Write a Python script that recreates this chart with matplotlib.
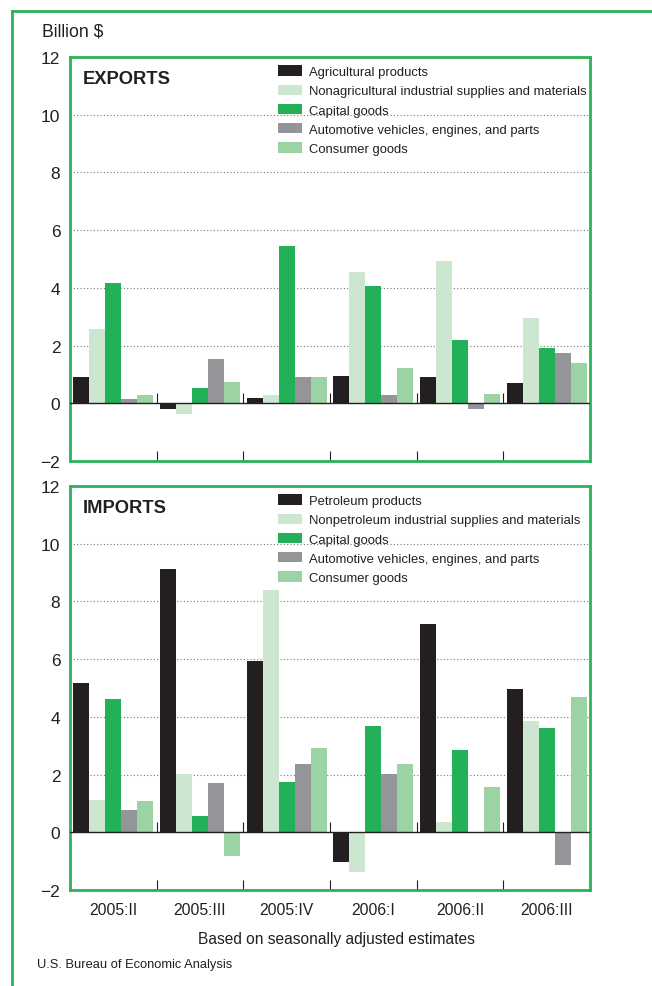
import matplotlib.pyplot as plt
import numpy as np
from matplotlib.lines import Line2D

plt.rcParams['font.family'] = ['Liberation Sans', 'DejaVu Sans']

# Données (milliards de $)
quarters = ['2005:II', '2005:III', '2005:IV', '2006:I', '2006:II', '2006:III']

export_labels = ['Agricultural products',
                 'Nonagricultural industrial supplies and materials',
                 'Capital goods',
                 'Automotive vehicles, engines, and parts',
                 'Consumer goods']
exp_agri = [0.90, -0.19, 0.18, 0.94, 0.90, 0.70]
exp_nonagri = [2.56, -0.37, 0.29, 4.56, 4.93, 2.97]
exp_capital = [4.17, 0.53, 5.45, 4.07, 2.18, 1.90]
exp_auto = [0.15, 1.55, 0.90, 0.29, -0.19, 1.73]
exp_consumer = [0.29, 0.73, 0.90, 1.21, 0.32, 1.38]

import_labels = ['Petroleum products',
                 'Nonpetroleum industrial supplies and materials',
                 'Capital goods',
                 'Automotive vehicles, engines, and parts',
                 'Consumer goods']
imp_petrol = [5.17, 9.12, 5.94, -1.03, 7.23, 4.96]
imp_nonpetrol = [1.11, 2.02, 8.39, -1.38, 0.34, 3.84]
imp_capital = [4.61, 0.58, 1.74, 3.70, 2.86, 3.63]
imp_auto = [0.76, 1.70, 2.37, 2.02, -0.02, -1.13]
imp_consumer = [1.07, -0.82, 2.93, 2.37, 1.56, 4.68]

# Couleurs
colors = ['#231f20', '#cde6cf', '#22b159', '#939598', '#9bd3a5']
frame_green = '#2cb35a'

fig = plt.figure(figsize=(6.52, 9.87), dpi=100)

# Cadre extérieur (haut et gauche)
fig.add_artist(Line2D([12/652, 1.0], [1-12/987, 1-12/987], color=frame_green, lw=2))
fig.add_artist(Line2D([12/652, 12/652], [0, 1-12/987], color=frame_green, lw=2))

ax1 = fig.add_axes([70/652, 1-462/987, 520/652, 404/987])
ax2 = fig.add_axes([70/652, 1-891/987, 520/652, 404/987])

x = np.arange(len(quarters))
w = 0.185


def draw_panel(ax, series, labels, title, show_xlabels):
    for i, vals in enumerate(series):
        ax.bar(x + (i - 2) * w, vals, width=w, color=colors[i], label=labels[i], zorder=2)
    ax.set_xlim(-0.5, len(quarters) - 0.5)
    ax.set_ylim(-2, 12)
    # grille pointillée
    for yv in [2, 4, 6, 8, 10]:
        ax.axhline(yv, color='#777777', lw=0.8, ls=(0, (1, 2)), zorder=1)
    ax.axhline(0, color='#231f20', lw=1.0, zorder=3)
    # petites graduations sur la ligne zéro
    ax.vlines(x[:-1] + 0.5, 0, 0.35, color='#231f20', lw=0.8, zorder=3)
    ax.set_yticks([-2, 0, 2, 4, 6, 8, 10, 12])
    ax.set_yticklabels(['\u22122', '0', '2', '4', '6', '8', '10', '12'], fontsize=12.5)
    ax.tick_params(axis='y', length=0, pad=7, colors='#231f20')
    ax.set_xticks(x[:-1] + 0.5)
    ax.set_xticklabels([])
    ax.tick_params(axis='x', which='major', direction='in', length=7, width=0.8,
                   color='#231f20')
    if show_xlabels:
        ax.set_xticks(x, minor=True)
        ax.set_xticklabels(quarters, minor=True, fontsize=11.3, color='#231f20')
        ax.tick_params(axis='x', which='minor', length=0, pad=9)
    for sp in ax.spines.values():
        sp.set_color(frame_green)
        sp.set_linewidth(2)
    ax.text(0.025, 0.968, title, transform=ax.transAxes, fontsize=13.2,
            fontweight='bold', va='top', ha='left', color='#231f20')
    leg = ax.legend(loc='upper left', bbox_to_anchor=(0.383, 1.0), frameon=False,
                    fontsize=9.4, handlelength=1.9, handleheight=0.9,
                    handletextpad=0.5, labelspacing=0.47, borderaxespad=0.25)
    for t in leg.get_texts():
        t.set_color('#231f20')


draw_panel(ax1, [exp_agri, exp_nonagri, exp_capital, exp_auto, exp_consumer],
           export_labels, 'EXPORTS', False)
draw_panel(ax2, [imp_petrol, imp_nonpetrol, imp_capital, imp_auto, imp_consumer],
           import_labels, 'IMPORTS', True)

fig.text(42/652, 1-32/987, 'Billion $', fontsize=12.7, va='center', ha='left', color='#231f20')
fig.text(336/652, 1-940/987, 'Based on seasonally adjusted estimates', fontsize=11.2,
         va='center', ha='center', color='#231f20')
fig.text(37/652, 1-965/987, 'U.S. Bureau of Economic Analysis', fontsize=9.3,
         va='center', ha='left', color='#231f20')

fig.savefig('out.png', dpi=100)
